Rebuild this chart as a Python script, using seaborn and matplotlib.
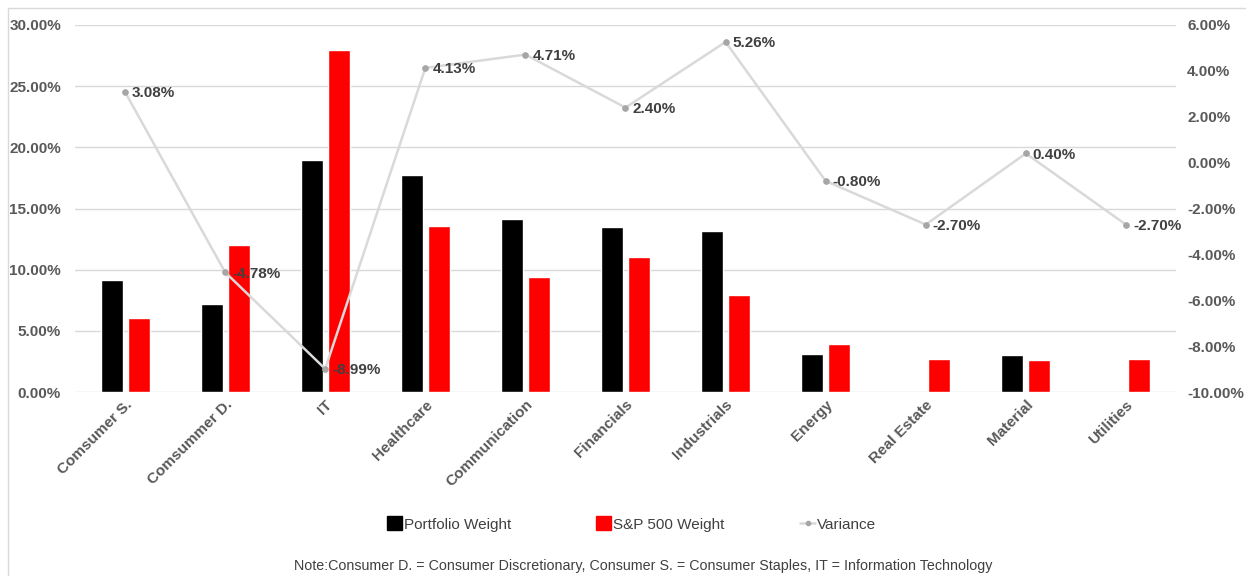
import numpy as np
import pandas as pd
import matplotlib
matplotlib.use('Agg')
import matplotlib.pyplot as plt
from matplotlib.lines import Line2D
from matplotlib.patches import Patch, Rectangle
import seaborn as sns

sns.set_style('white')
plt.rcParams['font.family'] = ['Liberation Sans', 'DejaVu Sans']

# data (percent)
sectors = ['Comsumer S.', 'Comsummer D.', 'IT', 'Healthcare', 'Communication',
           'Financials', 'Industrials', 'Energy', 'Real Estate', 'Material', 'Utilities']
portfolio = [9.16, 7.2, 19.0, 17.73, 14.11, 13.45, 13.16, 3.1, 0.0, 3.0, 0.0]
sp500 = [6.08, 11.98, 27.99, 13.6, 9.4, 11.05, 7.9, 3.9, 2.7, 2.6, 2.7]
variance = [3.08, -4.78, -8.99, 4.13, 4.71, 2.40, 5.26, -0.80, -2.70, 0.40, -2.70]

df = pd.DataFrame({
    'sector': sectors * 2,
    'weight': portfolio + sp500,
    'series': ['Portfolio Weight'] * len(sectors) + ['S&P 500 Weight'] * len(sectors),
})

txt = '#595959'
grid = '#d9d9d9'

fig = plt.figure(figsize=(12.46, 5.76), dpi=100)
ax = fig.add_axes([0.0602, 0.3194, 0.8836, 0.6372])

sns.barplot(data=df, x='sector', y='weight', hue='series', palette=['#000000', '#ff0000'],
            width=0.54, gap=0.185, saturation=1, legend=False, ax=ax)
ax.set_xlim(-0.5, len(sectors) - 0.5)
ax.set_ylim(0, 30)
ax.set_yticks(np.arange(0, 31, 5))
ax.set_yticklabels([f'{t:.2f}%' for t in np.arange(0, 31, 5)])
ax.grid(axis='y', color=grid, lw=1)
ax.set_axisbelow(True)
ax.set_xlabel('')
ax.set_ylabel('')
ax.tick_params(axis='y', length=0, pad=10, labelsize=11, labelcolor=txt)
ax.tick_params(axis='x', length=0, pad=4)
for lab in ax.get_xticklabels():
    lab.set_rotation(45)
    lab.set_ha('right')
    lab.set_va('top')
    lab.set_rotation_mode('anchor')
    lab.set_fontsize(11)
    lab.set_color(txt)
    lab.set_fontweight('bold')
for lab in ax.get_yticklabels():
    lab.set_fontweight('bold')
sns.despine(ax=ax, left=True, bottom=True)

ax2 = ax.twinx()
sns.lineplot(x=np.arange(len(sectors)), y=variance, ax=ax2, color=grid, lw=1.8,
             marker='o', markersize=4, markerfacecolor='#a6a6a6', markeredgecolor='#a6a6a6')
ax2.set_ylim(-10, 6)
ax2.set_yticks(np.arange(-10, 7, 2))
ax2.set_yticklabels([f'{t:.2f}%' for t in np.arange(-10, 7, 2)])
ax2.tick_params(axis='y', length=0, pad=8, labelsize=11, labelcolor=txt)
for lab in ax2.get_yticklabels():
    lab.set_fontweight('bold')
for s in ax2.spines.values():
    s.set_visible(False)
for i, v in enumerate(variance):
    ax2.annotate(f'{v:.2f}%', (i, v), xytext=(5, -1), textcoords='offset points',
                 ha='left', va='center', fontsize=11, fontweight='bold', color='#404040')

# legend entries placed one by one to match the spacing
entries = [
    (Patch(color='#000000'), 'Portfolio Weight', 387),
    (Patch(color='#ff0000'), 'S&P 500 Weight', 596),
    (Line2D([], [], color=grid, lw=1.8, marker='o', markersize=3,
            markerfacecolor='#a6a6a6', markeredgecolor='#a6a6a6'), 'Variance', 800),
]
for h, lab, xpix in entries:
    fig.legend([h], [lab], loc='center left', bbox_to_anchor=(xpix / 1246, 1 - 524 / 576),
               frameon=False, borderpad=0, borderaxespad=0, handlelength=1.0,
               handleheight=1.0, handletextpad=0.1, fontsize=11, labelcolor='#404040')

fig.text(0.516, 1 - 566 / 576,
         'Note:Consumer D. = Consumer Discretionary, Consumer S. = Consumer Staples, IT = Information Technology',
         ha='center', va='center', fontsize=10.3, color='#404040')

fig.add_artist(Rectangle((8 / 1246, -0.1), 1.2, 1 - 8 / 576 + 0.1, transform=fig.transFigure,
                         fill=False, ec=grid, lw=1))

fig.savefig('out.png', dpi=100)
